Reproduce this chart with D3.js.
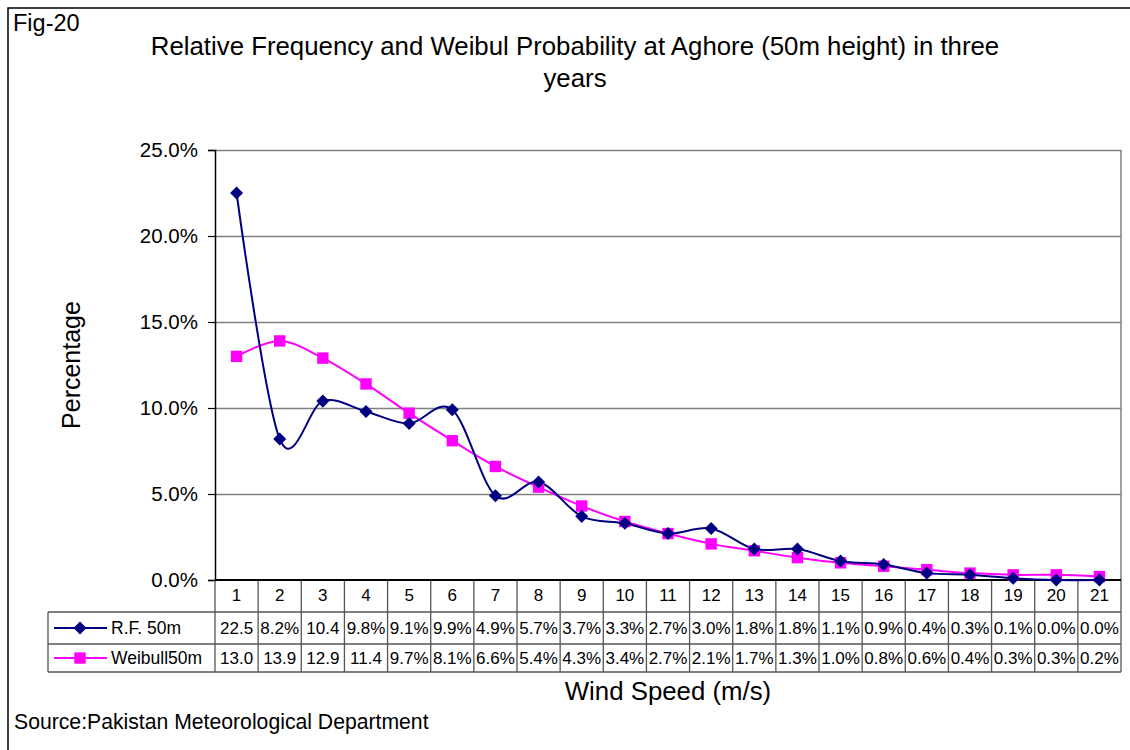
<!DOCTYPE html>
<html>
<head>
<meta charset="utf-8">
<script src="https://cdn.jsdelivr.net/npm/d3@7/dist/d3.min.js"></script>
<style>
  html, body { margin: 0; padding: 0; background: #fff; }
  svg { display: block; font-family: "Liberation Sans", Arial, sans-serif; }
</style>
</head>
<body>
<svg id="chart" width="1130" height="750"></svg>
<script>
// ---- data ----
const categories = ["1","2","3","4","5","6","7","8","9","10","11","12","13","14","15","16","17","18","19","20","21"];
const rfValues = [22.5, 8.2, 10.4, 9.8, 9.1, 9.9, 4.9, 5.7, 3.7, 3.3, 2.7, 3.0, 1.8, 1.8, 1.1, 0.9, 0.4, 0.3, 0.1, 0.0, 0.0];
const weibullValues = [13.0, 13.9, 12.9, 11.4, 9.7, 8.1, 6.6, 5.4, 4.3, 3.4, 2.7, 2.1, 1.7, 1.3, 1.0, 0.8, 0.6, 0.4, 0.3, 0.3, 0.2];
const seriesNames = ["R.F. 50m", "Weibull50m"];
const yTicks = [0, 5, 10, 15, 20, 25];
const titleLines = ["Relative Frequency and Weibul Probability at Aghore (50m height) in three", "years"];

// ---- layout ----
const svg = d3.select("#chart");
const plot = { left: 215, right: 1121, top: 150, bottom: 580 };
const table = { left: 48, headerBottom: 612, row1Bottom: 644, row2Bottom: 672 };
const colors = { rf: "#000080", wb: "#FF00FF", grid: "#808080" };

const x = d3.scaleBand().domain(categories).range([plot.left, plot.right]).padding(0);
const y = d3.scaleLinear().domain([0, 25]).range([plot.bottom, plot.top]);
const cx = c => x(c) + x.bandwidth() / 2;

// outer frame
svg.append("rect").attr("x", 8).attr("y", 8).attr("width", 1140).attr("height", 760)
  .attr("fill", "none").attr("stroke", "#000").attr("stroke-width", 1.5);

// Fig label
svg.append("text").attr("x", 13).attr("y", 31).attr("font-size", 23.5).text("Fig-20");

// title
svg.append("g").selectAll("text").data(titleLines).join("text")
  .attr("x", 575).attr("y", (d, i) => 55 + i * 32)
  .attr("text-anchor", "middle").attr("font-size", 25.8).text(d => d);

// gridlines
svg.append("g")
  .attr("transform", `translate(${plot.left},0)`)
  .call(d3.axisLeft(y).tickValues(yTicks.slice(1)).tickSize(-(plot.right - plot.left)).tickFormat(""))
  .call(g => g.select(".domain").remove())
  .call(g => g.selectAll("line").attr("stroke", colors.grid).attr("stroke-width", 1.5));

// right plot border
svg.append("line").attr("x1", plot.right).attr("x2", plot.right).attr("y1", plot.top).attr("y2", plot.bottom)
  .attr("stroke", colors.grid).attr("stroke-width", 1.5);

// y axis
svg.append("g")
  .attr("transform", `translate(${plot.left},0)`)
  .call(d3.axisLeft(y).tickValues(yTicks).tickSize(7).tickPadding(10).tickFormat(d => d.toFixed(1) + "%"))
  .call(g => g.select(".domain").attr("stroke", "#000").attr("stroke-width", 1.5))
  .call(g => g.selectAll("line").attr("stroke", "#000").attr("stroke-width", 1.2))
  .call(g => g.selectAll("text").attr("font-size", 20.5).attr("font-family", "Liberation Sans, Arial, sans-serif").attr("fill", "#000"));

// x axis labels (header row of data table)
svg.append("g")
  .attr("transform", `translate(0,${plot.bottom})`)
  .call(d3.axisBottom(x).tickSize(0).tickPadding(9))
  .call(g => g.select(".domain").remove())
  .call(g => g.selectAll("text").attr("font-size", 17).attr("font-family", "Liberation Sans, Arial, sans-serif").attr("fill", "#000"));

// ---- data table grid ----
const tg = svg.append("g").attr("stroke", "#555").attr("stroke-width", 1.3);
const bounds = categories.map(c => x(c)).concat([plot.right]);
tg.selectAll("line.v").data(bounds).join("line")
  .attr("x1", d => d).attr("x2", d => d)
  .attr("y1", plot.bottom).attr("y2", table.row2Bottom);
[table.headerBottom, table.row1Bottom, table.row2Bottom].forEach(yy => {
  tg.append("line").attr("x1", table.left).attr("x2", plot.right).attr("y1", yy).attr("y2", yy);
});
tg.append("line").attr("x1", table.left).attr("x2", table.left).attr("y1", table.headerBottom).attr("y2", table.row2Bottom);

// x axis line (drawn over table)
svg.append("line").attr("x1", plot.left).attr("x2", plot.right).attr("y1", plot.bottom).attr("y2", plot.bottom)
  .attr("stroke", "#000").attr("stroke-width", 2);

// table values (truncate characters that do not fit the cell)
const rowsData = [
  { vals: rfValues, yc: (table.headerBottom + table.row1Bottom) / 2 },
  { vals: weibullValues, yc: (table.row1Bottom + table.row2Bottom) / 2 }
];
rowsData.forEach(r => {
  svg.append("g").selectAll("text").data(categories).join("text")
    .attr("x", c => cx(c)).attr("y", r.yc + 6)
    .attr("text-anchor", "middle").attr("font-size", 17)
    .text((c, i) => r.vals[i].toFixed(1) + "%")
    .each(function() {
      const el = this;
      let s = el.textContent;
      while (el.getComputedTextLength() > x.bandwidth() - 2 && s.length > 1) {
        s = s.slice(0, -1);
        el.textContent = s;
      }
    });
});

// markers: diamond = rotated square, square
const diamondPath = d3.symbol().type(d3.symbolSquare).size(85)();
const squarePath = d3.symbol().type(d3.symbolSquare).size(130)();
const markers = {
  rf: { d: diamondPath, rot: 45 },
  wb: { d: squarePath, rot: 0 }
};

// legend keys in table
const legendRows = [
  { name: seriesNames[0], color: colors.rf, m: markers.rf, yc: rowsData[0].yc },
  { name: seriesNames[1], color: colors.wb, m: markers.wb, yc: rowsData[1].yc }
];
legendRows.forEach(l => {
  svg.append("line").attr("x1", 54).attr("x2", 107).attr("y1", l.yc).attr("y2", l.yc)
    .attr("stroke", l.color).attr("stroke-width", 2);
  svg.append("path").attr("d", l.m.d).attr("transform", `translate(80,${l.yc}) rotate(${l.m.rot})`).attr("fill", l.color);
  svg.append("text").attr("x", 111).attr("y", l.yc + 6).attr("font-size", 17.5).text(l.name);
});

// ---- series ----
const line = d3.line().x((d, i) => cx(categories[i])).y(d => y(d)).curve(d3.curveCardinal.tension(0));
const series = [
  { vals: weibullValues, color: colors.wb, m: markers.wb },
  { vals: rfValues, color: colors.rf, m: markers.rf }
];
series.forEach(s => {
  svg.append("path").datum(s.vals).attr("d", line)
    .attr("fill", "none").attr("stroke", s.color).attr("stroke-width", 2);
});
series.forEach(s => {
  svg.append("g").selectAll("path").data(s.vals).join("path")
    .attr("d", s.m.d)
    .attr("transform", (d, i) => `translate(${cx(categories[i])},${y(d)}) rotate(${s.m.rot})`)
    .attr("fill", s.color);
});

// axis titles
svg.append("text").attr("transform", "translate(80,365) rotate(-90)")
  .attr("text-anchor", "middle").attr("font-size", 25).text("Percentage");
svg.append("text").attr("x", 668).attr("y", 700)
  .attr("text-anchor", "middle").attr("font-size", 25.8).text("Wind Speed (m/s)");

// source
svg.append("text").attr("x", 14).attr("y", 729).attr("font-size", 21.2).text("Source:Pakistan Meteorological Department");
</script>
</body>
</html>
